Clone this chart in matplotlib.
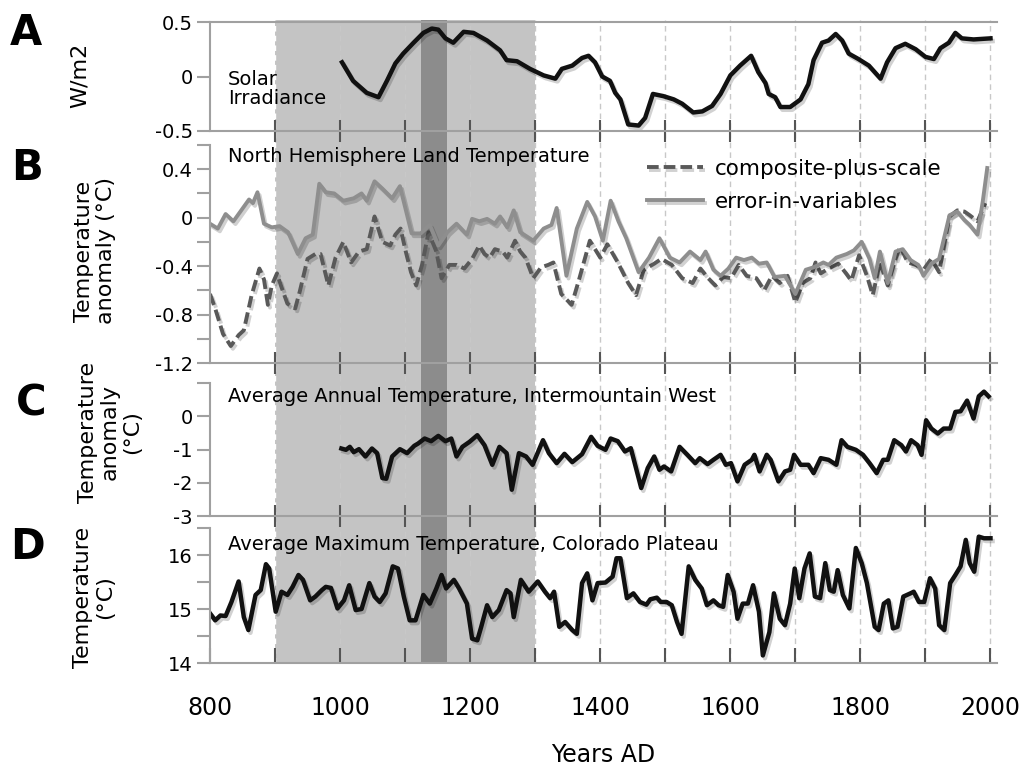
import matplotlib
matplotlib.use("Agg")
import matplotlib.pyplot as plt
import matplotlib.patheffects as pe
from matplotlib.ticker import FixedLocator, NullFormatter

# ---------------- data ----------------
solar_year = [1003, 1020, 1041, 1059, 1072, 1085, 1097, 1113, 1128, 1141, 1151, 1162, 1174, 1190,
              1205, 1226, 1246, 1256, 1272, 1292, 1313, 1331, 1341, 1357, 1372, 1382, 1392, 1403,
              1415, 1423, 1431, 1443, 1459, 1469, 1481, 1497, 1513, 1526, 1543, 1557, 1572, 1585,
              1600, 1615, 1632, 1643, 1654, 1659, 1669, 1677, 1692, 1708, 1720, 1728, 1741, 1751,
              1762, 1772, 1782, 1797, 1813, 1831, 1841, 1854, 1869, 1885, 1900, 1913, 1923, 1936,
              1946, 1956, 1974, 2000]
solar_wm2 = [0.13, -0.04, -0.15, -0.19, -0.04, 0.12, 0.21, 0.31, 0.40, 0.44, 0.43, 0.35, 0.31, 0.41,
             0.40, 0.33, 0.24, 0.15, 0.14, 0.07, 0.01, -0.02, 0.07, 0.10, 0.17, 0.19, 0.13, 0.00,
             -0.04, -0.15, -0.21, -0.44, -0.45, -0.38, -0.16, -0.18, -0.21, -0.25, -0.33, -0.32,
             -0.27, -0.16, 0.01, 0.10, 0.19, 0.04, -0.06, -0.16, -0.19, -0.28, -0.28, -0.21, -0.07,
             0.15, 0.31, 0.33, 0.39, 0.33, 0.21, 0.16, 0.10, -0.02, 0.13, 0.26, 0.30, 0.25, 0.18,
             0.16, 0.26, 0.31, 0.40, 0.35, 0.34, 0.35]

eiv_year = [800, 812, 824, 836, 860, 866, 873, 883, 895, 907, 920, 935, 947, 958, 968, 978, 991,
            1005, 1021, 1033, 1041, 1053, 1065, 1080, 1092, 1110, 1124, 1138, 1151, 1165, 1179,
            1195, 1203, 1214, 1226, 1238, 1246, 1257, 1267, 1277, 1297, 1313, 1325, 1333, 1348,
            1364, 1380, 1392, 1404, 1416, 1428, 1440, 1459, 1475, 1491, 1507, 1522, 1538, 1554,
            1562, 1574, 1585, 1597, 1609, 1621, 1633, 1644, 1656, 1668, 1684, 1700, 1716, 1728,
            1743, 1751, 1763, 1779, 1790, 1802, 1814, 1822, 1830, 1842, 1854, 1865, 1877, 1889,
            1897, 1909, 1921, 1937, 1949, 1960, 1968, 1980, 1988, 1995]
eiv_temp = [-0.05, -0.09, 0.03, -0.03, 0.15, 0.12, 0.21, -0.05, -0.08, -0.07, -0.12, -0.30, -0.17,
            -0.14, 0.28, 0.21, 0.20, 0.14, 0.16, 0.20, 0.14, 0.30, 0.24, 0.16, 0.26, -0.13, -0.13,
            -0.06, -0.23, -0.12, -0.05, -0.14, -0.01, -0.03, -0.01, -0.05, 0.01, -0.08, 0.06,
            -0.12, -0.19, -0.09, -0.06, 0.08, -0.48, -0.09, 0.13, 0.01, -0.19, 0.14, -0.03, -0.17,
            -0.45, -0.33, -0.17, -0.33, -0.37, -0.28, -0.35, -0.28, -0.43, -0.48, -0.42, -0.33,
            -0.35, -0.33, -0.38, -0.37, -0.49, -0.48, -0.63, -0.43, -0.41, -0.37, -0.39, -0.33,
            -0.30, -0.27, -0.20, -0.34, -0.50, -0.28, -0.54, -0.28, -0.26, -0.35, -0.39, -0.48,
            -0.38, -0.34, 0.02, 0.05, -0.02, -0.06, -0.14, 0.13, 0.41]

cps_year = [800, 808, 820, 832, 844, 852, 864, 876, 883, 889, 895, 903, 909, 919, 931, 938, 950,
            962, 970, 982, 993, 1005, 1017, 1029, 1041, 1053, 1065, 1077, 1085, 1093, 1101, 1109,
            1117, 1126, 1136, 1148, 1156, 1168, 1179, 1191, 1203, 1214, 1222, 1230, 1238, 1250,
            1257, 1269, 1277, 1285, 1297, 1309, 1320, 1328, 1340, 1356, 1368, 1384, 1400, 1411,
            1427, 1443, 1455, 1467, 1483, 1494, 1510, 1526, 1542, 1554, 1566, 1577, 1589, 1601,
            1613, 1625, 1640, 1652, 1664, 1676, 1688, 1700, 1711, 1723, 1731, 1739, 1751, 1766,
            1778, 1786, 1798, 1810, 1819, 1830, 1842, 1854, 1861, 1873, 1885, 1897, 1909, 1921,
            1937, 1949, 1960, 1968, 1980, 1992]
cps_temp = [-0.63, -0.75, -0.96, -1.06, -0.97, -0.93, -0.64, -0.42, -0.51, -0.72, -0.56, -0.46,
            -0.56, -0.71, -0.75, -0.61, -0.34, -0.30, -0.30, -0.56, -0.33, -0.20, -0.37, -0.28,
            -0.26, 0.01, -0.20, -0.23, -0.14, -0.09, -0.28, -0.45, -0.56, -0.39, -0.12, -0.28,
            -0.50, -0.39, -0.39, -0.42, -0.34, -0.23, -0.30, -0.33, -0.26, -0.28, -0.33, -0.19,
            -0.28, -0.33, -0.50, -0.41, -0.39, -0.37, -0.63, -0.72, -0.50, -0.19, -0.33, -0.22,
            -0.37, -0.54, -0.64, -0.43, -0.38, -0.34, -0.39, -0.50, -0.54, -0.42, -0.50, -0.56,
            -0.49, -0.50, -0.39, -0.48, -0.50, -0.60, -0.48, -0.54, -0.48, -0.70, -0.54, -0.50,
            -0.37, -0.46, -0.42, -0.38, -0.46, -0.52, -0.31, -0.48, -0.64, -0.37, -0.56, -0.34,
            -0.24, -0.37, -0.39, -0.43, -0.34, -0.45, 0.01, 0.06, 0.05, 0.02, -0.03, 0.12]

imw_year = [1002, 1009, 1015, 1021, 1029, 1039, 1049, 1057, 1065, 1071, 1080, 1092, 1103, 1114,
            1120, 1130, 1140, 1151, 1162, 1171, 1179, 1188, 1199, 1211, 1222, 1234, 1245, 1256,
            1264, 1275, 1286, 1296, 1312, 1321, 1333, 1345, 1357, 1372, 1386, 1396, 1408, 1416,
            1427, 1438, 1447, 1463, 1473, 1483, 1491, 1498, 1509, 1522, 1534, 1546, 1553, 1565,
            1574, 1585, 1593, 1601, 1611, 1622, 1633, 1637, 1645, 1656, 1662, 1674, 1684, 1692,
            1698, 1708, 1720, 1728, 1739, 1751, 1763, 1771, 1780, 1793, 1804, 1814, 1825, 1835,
            1842, 1852, 1863, 1870, 1878, 1888, 1894, 1901, 1909, 1919, 1928, 1938, 1946, 1954,
            1964, 1974, 1982, 1990, 1997]
imw_anom = [-0.97, -1.01, -0.92, -1.08, -0.99, -1.21, -0.97, -1.11, -1.86, -1.88, -1.21, -0.99,
            -1.11, -0.89, -0.82, -0.67, -0.75, -0.59, -0.75, -0.67, -1.21, -0.92, -0.77, -0.57,
            -0.87, -1.46, -0.92, -1.11, -2.21, -1.11, -1.21, -1.46, -0.72, -1.11, -1.41, -1.13,
            -1.38, -1.14, -0.62, -0.89, -1.01, -0.67, -0.75, -1.06, -0.96, -2.16, -1.56, -1.21,
            -1.61, -1.51, -1.66, -0.92, -1.16, -1.41, -1.26, -1.44, -1.31, -1.16, -1.46, -1.41,
            -1.96, -1.46, -1.31, -1.16, -1.66, -1.16, -1.31, -1.96, -1.66, -1.61, -1.16, -1.46,
            -1.46, -1.71, -1.26, -1.31, -1.46, -0.72, -0.92, -1.01, -1.16, -1.41, -1.71, -1.31,
            -1.31, -0.72, -0.87, -1.06, -0.72, -0.87, -1.16, -0.12, -0.37, -0.52, -0.37, -0.37,
            0.13, 0.15, 0.47, -0.07, 0.60, 0.74, 0.60]

cp_year = [800, 808, 816, 824, 833, 844, 852, 859, 870, 878, 886, 891, 901, 910, 919, 927, 936,
           943, 954, 962, 972, 978, 986, 996, 1006, 1014, 1024, 1033, 1045, 1053, 1061, 1070,
           1081, 1089, 1098, 1107, 1116, 1128, 1138, 1148, 1156, 1163, 1175, 1183, 1195, 1203,
           1211, 1217, 1226, 1234, 1244, 1256, 1262, 1267, 1278, 1290, 1304, 1315, 1323, 1329,
           1337, 1346, 1357, 1364, 1372, 1380, 1388, 1396, 1408, 1419, 1425, 1431, 1441, 1451,
           1461, 1471, 1477, 1487, 1493, 1502, 1510, 1518, 1525, 1536, 1546, 1556, 1564, 1574,
           1582, 1589, 1596, 1605, 1611, 1619, 1627, 1635, 1644, 1650, 1660, 1667, 1676, 1684,
           1692, 1699, 1706, 1714, 1722, 1730, 1738, 1746, 1753, 1759, 1765, 1773, 1783, 1793,
           1802, 1810, 1822, 1828, 1836, 1843, 1850, 1857, 1866, 1877, 1882, 1890, 1898, 1907,
           1915, 1921, 1929, 1938, 1946, 1954, 1962, 1968, 1975, 1982, 1990, 2000]
cp_tmax = [14.92, 14.79, 14.88, 14.87, 15.13, 15.51, 14.85, 14.61, 15.26, 15.35, 15.83, 15.75,
           14.95, 15.32, 15.26, 15.41, 15.63, 15.54, 15.16, 15.23, 15.35, 15.41, 15.39, 15.01,
           15.16, 15.44, 14.98, 15.00, 15.48, 15.23, 15.13, 15.29, 15.79, 15.75, 15.23, 14.79,
           14.79, 15.26, 15.10, 15.38, 15.63, 15.38, 15.54, 15.38, 15.10, 14.45, 14.42, 14.67,
           15.07, 14.85, 14.98, 15.35, 15.29, 14.85, 15.54, 15.32, 15.51, 15.32, 15.20, 15.32,
           14.67, 14.76, 14.61, 14.54, 15.48, 15.66, 15.16, 15.48, 15.49, 15.60, 15.94, 15.94,
           15.20, 15.29, 15.13, 15.08, 15.18, 15.21, 15.13, 15.13, 15.07, 14.76, 14.54, 15.79,
           15.54, 15.38, 15.07, 15.16, 15.07, 15.04, 15.63, 15.32, 14.82, 15.10, 15.10, 15.44,
           14.95, 14.14, 14.57, 15.29, 14.82, 14.70, 15.10, 15.75, 15.20, 15.75, 16.03, 15.23,
           15.20, 15.85, 15.35, 15.32, 15.72, 15.26, 15.01, 16.13, 15.85, 15.48, 14.67, 14.61,
           15.10, 15.16, 14.64, 14.67, 15.23, 15.29, 15.32, 15.13, 15.13, 15.57, 15.38, 14.70,
           14.61, 15.48, 15.63, 15.79, 16.28, 15.85, 15.69, 16.34, 16.31, 16.31]

# ---------------- layout helpers (pixels of a 1022x768 canvas) ----------------
W, H = 1022, 768
def fx(px):
    return px / W
def fy(py):
    return 1 - py / H
def rect(top, bottom, left=210, right=997):
    return [fx(left), fy(bottom), (right - left) / W, (bottom - top) / H]

XLIM = (800, 2010)
SPINE = '#a0a0a0'
shadow = [pe.SimpleLineShadow(offset=(1.5, -2), shadow_color='k', alpha=0.18), pe.Normal()]

plt.rcParams['font.family'] = 'DejaVu Sans'
fig = plt.figure(figsize=(10.22, 7.68), dpi=100)

# background: shaded periods and century lines spanning all panels
bg = fig.add_axes(rect(20, 663))
bg.set_xlim(XLIM)
bg.set_ylim(0, 1)
bg.axis('off')
bg.axvspan(900, 1300, color='#c4c4c4', lw=0)
bg.axvspan(1125, 1165, color='#8c8c8c', lw=0)
for yr in range(1000, 2001, 100):
    bg.axvline(yr, color='#c8c8c8', lw=1, ls=(0, (4, 3)))
bg.axvline(900, color='white', lw=1, ls=(0, (4, 3)))

def panel(top, bottom, ylim, major, minor, labels, top_spine=False, last=False):
    ax = fig.add_axes(rect(top, bottom))
    ax.set_facecolor('none')
    ax.set_xlim(XLIM)
    ax.set_ylim(ylim)
    for s in ['right', 'top']:
        ax.spines[s].set_visible(False)
    if top_spine:
        ax.spines['top'].set_visible(True)
    for s in ['left', 'bottom', 'top']:
        ax.spines[s].set_color(SPINE)
        ax.spines[s].set_linewidth(1.5)
    ax.yaxis.set_major_locator(FixedLocator(major))
    ax.set_yticklabels(labels)
    ax.yaxis.set_minor_locator(FixedLocator(minor))
    ax.tick_params(axis='y', which='both', direction='out', length=9.5, width=1.5,
                   color=SPINE, labelsize=14, pad=3)
    if last:
        ax.xaxis.set_major_locator(FixedLocator(range(800, 2001, 200)))
        ax.xaxis.set_minor_locator(FixedLocator(range(900, 2000, 200)))
        ax.tick_params(axis='x', which='both', direction='in', length=11, width=1.5,
                       color='#555555', labelsize=17, pad=24)
    else:
        ax.xaxis.set_major_locator(FixedLocator(range(900, 2001, 100)))
        ax.xaxis.set_major_formatter(NullFormatter())
        ax.tick_params(axis='x', which='both', direction='inout', length=16, width=1.5,
                       color='#555555')
    return ax

# A: solar irradiance
axA = panel(22, 131, (-0.5, 0.5), [-0.5, 0, 0.5], [], ['-0.5', '0', '0.5'], top_spine=True)
axA.plot(solar_year, solar_wm2, color='#111111', lw=3.2, path_effects=shadow)

# B: NH land temperature
axB = panel(145, 363, (-1.2, 0.6), [-1.2, -0.8, -0.4, 0, 0.4], [-1.0, -0.6, -0.2, 0.2, 0.6],
            ['-1.2', '-0.8', '-0.4', '0', '0.4'])
axB.plot(cps_year, cps_temp, color='#595959', lw=2.8, ls=(0, (3, 1.3)),
         path_effects=shadow, label='composite-plus-scale')
axB.plot(eiv_year, eiv_temp, color='#8e8e8e', lw=2.8, path_effects=shadow,
         label='error-in-variables')
axB.legend(loc='upper left', bbox_to_anchor=(fx(647), fy(159)), bbox_transform=fig.transFigure,
           frameon=False, fontsize=15.5, handlelength=2.6, handletextpad=0.55,
           labelspacing=0.6, borderpad=0, borderaxespad=0)

# C: Intermountain West annual temperature
axC = panel(383, 516, (-3, 1), [-3, -2, -1, 0], [1], ['-3', '-2', '-1', '0'])
axC.plot(imw_year, imw_anom, color='#111111', lw=3.2, path_effects=shadow)

# D: Colorado Plateau max temperature
axD = panel(528, 663, (14, 16.5), [14, 15, 16], [14.5, 15.5, 16.5], ['14', '15', '16'], last=True)
axD.plot(cp_year, cp_tmax, color='#111111', lw=3.2, path_effects=shadow)
axD.set_xlabel('Years AD', fontsize=17, labelpad=16)

# panel titles
fig.text(fx(228), fy(89), 'Solar\nIrradiance', fontsize=14, va='center', ha='left', linespacing=1.05)
fig.text(fx(228), fy(157), 'North Hemisphere Land Temperature', fontsize=14, va='center')
fig.text(fx(228), fy(397), 'Average Annual Temperature, Intermountain West', fontsize=14, va='center')
fig.text(fx(228), fy(544), 'Average Maximum Temperature, Colorado Plateau', fontsize=14, va='center')

# y labels
ylab = dict(rotation=90, ha='center', va='center', fontsize=16, multialignment='center',
            linespacing=1.15)
fig.text(fx(80), fy(75), 'W/m2', **ylab)
fig.text(fx(95), fy(251), 'Temperature\nanomaly (°C)', **ylab)
fig.text(fx(110), fy(432), 'Temperature\nanomaly\n(°C)', **ylab)
fig.text(fx(94), fy(597), 'Temperature\n(°C)', **ylab)

# panel letters
for letter, px, py in [('A', 26, 33), ('B', 27, 168), ('C', 31, 404), ('D', 27, 547)]:
    fig.text(fx(px), fy(py), letter, fontsize=30, fontweight='bold', ha='center', va='center')

fig.savefig('out.png', dpi=100)
